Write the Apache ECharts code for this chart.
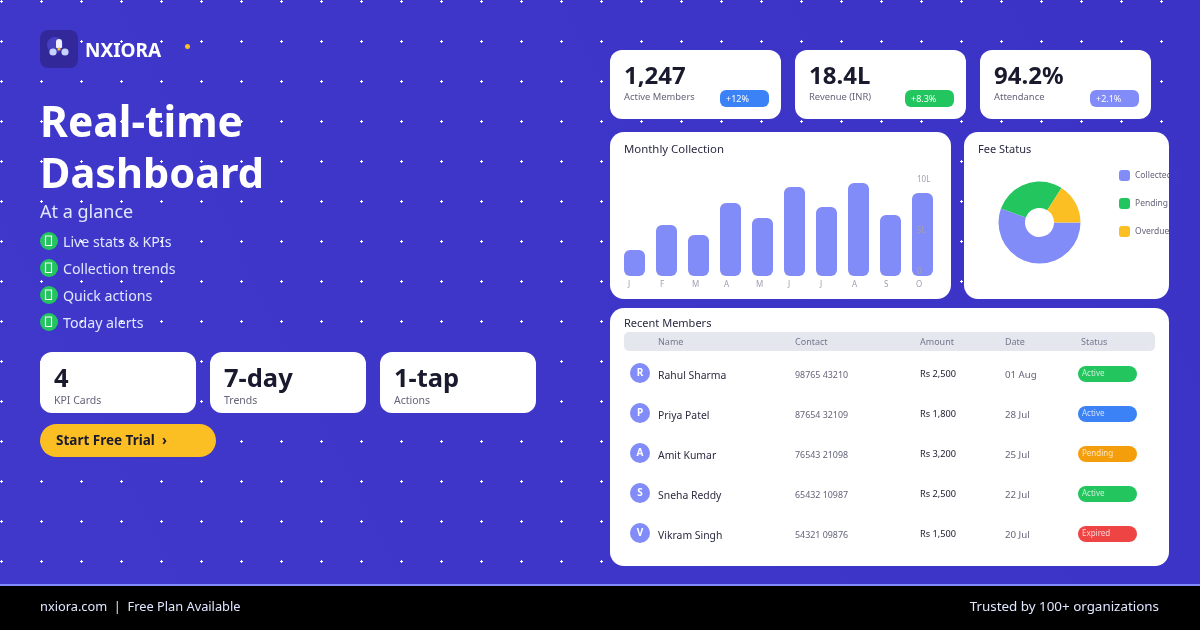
<!DOCTYPE html>
<html>
<head>
<meta charset="utf-8">
<style>html,body{margin:0;padding:0;background:#3d35c8}#main{width:1200px;height:630px}</style>
<script src="https://cdn.jsdelivr.net/npm/echarts@6/dist/echarts.min.js"></script>
</head>
<body>
<div id="main"></div>
<script>
// bar chart
var months = ['J', 'F', 'M', 'A', 'M', 'J', 'J', 'A', 'S', 'O'];
var collection = [2.6, 5.1, 4.1, 7.3, 5.8, 8.9, 6.9, 9.3, 6.1, 8.3];
var yTicks = { 0: '0', 5: '{mid|5L}', 10: '10L' };
// donut
var feeNames = ['Collected', 'Pending', 'Overdue'];
var feeValues = [55.5, 28.5, 16];
var feeColors = ['#818cf8', '#22c55e', '#fbbf24'];
// text blocks
var bullets = ['Live stats & KPIs', 'Collection trends', 'Quick actions', 'Today alerts'];
var miniValues = ['4', '7-day', '1-tap'];
var miniLabels = ['KPI Cards', 'Trends', 'Actions'];
var kpiValues = ['1,247', '18.4L', '94.2%'];
var kpiLabels = ['Active Members', 'Revenue (INR)', 'Attendance'];
var kpiDeltas = ['+12%', '+8.3%', '+2.1%'];
var kpiColors = ['#3b82f6', '#22c55e', '#818cf8'];
// table
var tableHead = ['Name', 'Contact', 'Amount', 'Date', 'Status'];
var names = ['Rahul Sharma', 'Priya Patel', 'Amit Kumar', 'Sneha Reddy', 'Vikram Singh'];
var contacts = ['98765 43210', '87654 32109', '76543 21098', '65432 10987', '54321 09876'];
var amounts = ['Rs 2,500', 'Rs 1,800', 'Rs 3,200', 'Rs 2,500', 'Rs 1,500'];
var dates = ['01 Aug', '28 Jul', '25 Jul', '22 Jul', '20 Jul'];
var statuses = ['Active', 'Active', 'Pending', 'Active', 'Expired'];
var statusColors = ['#22c55e', '#3b82f6', '#f59e0b', '#22c55e', '#ef4444'];

var FONT = '"Noto Sans", sans-serif';
var DARK = '#1a1a2e';
var MUTED = '#64647a';
var g = [];

function rect(x, y, w, h, r, fill, z) {
    g.push({ type: 'rect', z: z || 1, shape: { x: x, y: y, width: w, height: h, r: r }, style: { fill: fill } });
}
function circle(x, y, r, fill, z) {
    g.push({ type: 'circle', z: z || 1, shape: { cx: x, cy: y, r: r }, style: { fill: fill } });
}
// noto sits a little high on middle baseline, so nudge by size
function label(x, y, text, size, fill, weight, align) {
    g.push({
        type: 'text', z: 3, x: x, y: y + size * 0.09,
        style: { text: text, fill: fill, font: (weight || 'normal') + ' ' + size + 'px ' + FONT, textAlign: align || 'left', textVerticalAlign: 'middle' }
    });
}

// plus-shaped dots repeat every 40px
var tile = document.createElement('canvas');
tile.width = 40;
tile.height = 40;
var ctx = tile.getContext('2d');
ctx.fillStyle = '#ffffff';
ctx.fillRect(0, 1, 3, 1);
ctx.fillRect(1, 0, 1, 3);

g.push({ type: 'rect', z: 0, shape: { x: 0, y: 0, width: 1200, height: 585 }, style: { fill: { type: 'linear', x: 0, y: 1, x2: 1, y2: 0, colorStops: [{ offset: 0, color: '#4038cb' }, { offset: 1, color: '#3b33c5' }] } } });
g.push({ type: 'rect', z: 0, shape: { x: 0, y: 0, width: 1200, height: 570 }, style: { fill: { image: tile, repeat: 'repeat' } } });

// logo
rect(40, 30, 38, 38, 8, '#33289a');
circle(55, 45, 8, '#4540c0');
circle(59, 42, 3, '#eef0ff');
rect(56, 42, 6, 6, 1, '#eef0ff');
circle(53, 52, 3.6, '#c7d2fe');
circle(65, 52, 3.6, '#c7d2fe');
circle(59, 49, 1.6, '#fbbf24');
label(85, 50, 'NXIORA', 19, '#ffffff', 'bold');
circle(187.5, 46.5, 2.5, '#fbbf24');

// headline
label(40, 121, 'Real-time', 42.5, '#ffffff', 'bold');
label(40, 172, 'Dashboard', 41.5, '#ffffff', 'bold');
label(40, 211, 'At a glance', 18, '#e0e7ff');
bullets.forEach(function (b, i) {
    var y = 241 + i * 27;
    circle(49, y, 9, '#22c55e', 2);
    g.push({ type: 'rect', z: 3, shape: { x: 45.5, y: y - 5, width: 6, height: 9.5 }, style: { fill: 'none', stroke: '#ffffff', lineWidth: 1.2 } });
    label(63, y + 1, b, 14.2, '#e0e7ff');
});

// mini cards
miniValues.forEach(function (v, i) {
    var x = 40 + i * 170;
    rect(x, 352, 156, 61, 12, '#ffffff');
    label(x + 14, 377, v, 25.5, DARK, 'bold');
    label(x + 14, 400, miniLabels[i], 10.5, MUTED);
});
rect(40, 424, 176, 33, 16.5, '#fbbf24');
label(56, 440, 'Start Free Trial  \u203a', 13.5, DARK, 'bold');

// kpi cards
kpiValues.forEach(function (v, i) {
    var x = 610 + i * 185;
    rect(x, 50, 171, 69, 12, '#ffffff');
    label(x + 14, 75, v, 24, DARK, 'bold');
    label(x + 14, 96, kpiLabels[i], 9.4, MUTED);
    rect(x + 110, 90, 49, 17, 6, kpiColors[i], 2);
    label(x + 116, 99, kpiDeltas[i], 9, '#ffffff');
});

// chart cards
rect(610, 132, 341, 167, 14, '#ffffff');
label(624, 149, 'Monthly Collection', 11.4, '#2a2a40');
rect(964, 132, 205, 167, 14, '#ffffff');
label(978, 149, 'Fee Status', 11, '#2a2a40');

// table card
rect(610, 308, 559, 258, 14, '#ffffff');
label(624, 323, 'Recent Members', 11, '#2a2a40');
rect(624, 332, 531, 19, 5, '#e5e7ef');
[658, 795, 920, 1005, 1081].forEach(function (x, i) {
    label(x, 342, tableHead[i], 9, '#77778c');
});
names.forEach(function (n, i) {
    var y = 375 + i * 40;
    circle(640, y - 2, 10, '#818cf8');
    label(640, y - 3, n.charAt(0), 10, '#ffffff', 'bold', 'center');
    label(658, y, n, 10.4, '#2a2a40');
    label(795, y, contacts[i], 8.9, MUTED);
    label(920, y - 1, amounts[i], 9.2, DARK);
    label(1005, y - 0.5, dates[i], 9.7, MUTED);
    rect(1078, y - 9, 59, 16, 8, statusColors[i], 2);
    label(1082, y - 2, statuses[i], 8, 'rgba(255,255,255,0.75)');
});

// footer
rect(0, 584, 1200, 46, 0, '#000000');
rect(0, 584, 1200, 2, 0, '#818cf8');
label(40, 606, 'nxiora.com  |  Free Plan Available', 12.8, '#e0e7ff');
label(1159, 606, 'Trusted by 100+ organizations', 13.4, '#e0e7ff', 'normal', 'right');

// the legend runs past the card edge in the reference, this strip cuts it off
rect(1169, 165, 12, 20, 0, '#3c34c6', 10);

var option = {
    animation: false,
    backgroundColor: '#3d35c8',
    textStyle: { fontFamily: FONT },
    graphic: { elements: g },
    grid: { left: 618.5, top: 176, width: 320, height: 100 },
    xAxis: {
        type: 'category',
        data: months,
        z: 5,
        axisLine: { show: false },
        axisTick: { show: false },
        axisLabel: { interval: 0, align: 'left', padding: [0, 0, 0, -6.5], margin: 5, fontSize: 8, color: '#a0a0b0' }
    },
    yAxis: {
        type: 'value',
        min: 0,
        max: 10,
        interval: 5,
        position: 'right',
        offset: -21.5,
        z: 5,
        splitLine: { show: false },
        axisLine: { show: false },
        axisTick: { show: false },
        axisLabel: {
            inside: true,
            margin: 0,
            align: 'left',
            fontSize: 8,
            color: '#a0a0b0',
            verticalAlignMaxLabel: 'top',
            verticalAlignMinLabel: 'bottom',
            rich: { mid: { fontSize: 8, color: '#a0a0b0', padding: [10, 0, 0, 0] } },
            formatter: function (v) { return yTicks[v]; }
        }
    },
    legend: {
        orient: 'vertical',
        left: 1119,
        top: 170,
        itemWidth: 11,
        itemHeight: 11,
        itemGap: 17,
        icon: 'path://M3 0H8A3 3 0 0 1 11 3V8A3 3 0 0 1 8 11H3A3 3 0 0 1 0 8V3A3 3 0 0 1 3 0Z',
        data: feeNames,
        selectedMode: false,
        padding: 0,
        textStyle: { fontSize: 8.5, color: MUTED }
    },
    series: [{
        type: 'bar',
        data: collection,
        barWidth: 21,
        z: 3,
        itemStyle: { color: '#818cf8', borderRadius: [6, 6, 6, 6] }
    }, {
        type: 'pie',
        center: [1039.5, 222.5],
        radius: [14.5, 41],
        startAngle: 0,
        clockwise: true,
        label: { show: false },
        labelLine: { show: false },
        silent: true,
        z: 3,
        data: feeNames.map(function (n, i) {
            return { name: n, value: feeValues[i], itemStyle: { color: feeColors[i] } };
        })
    }]
};
var chart = echarts.init(document.getElementById('main'));
chart.setOption(option);
</script>
</body>
</html>
